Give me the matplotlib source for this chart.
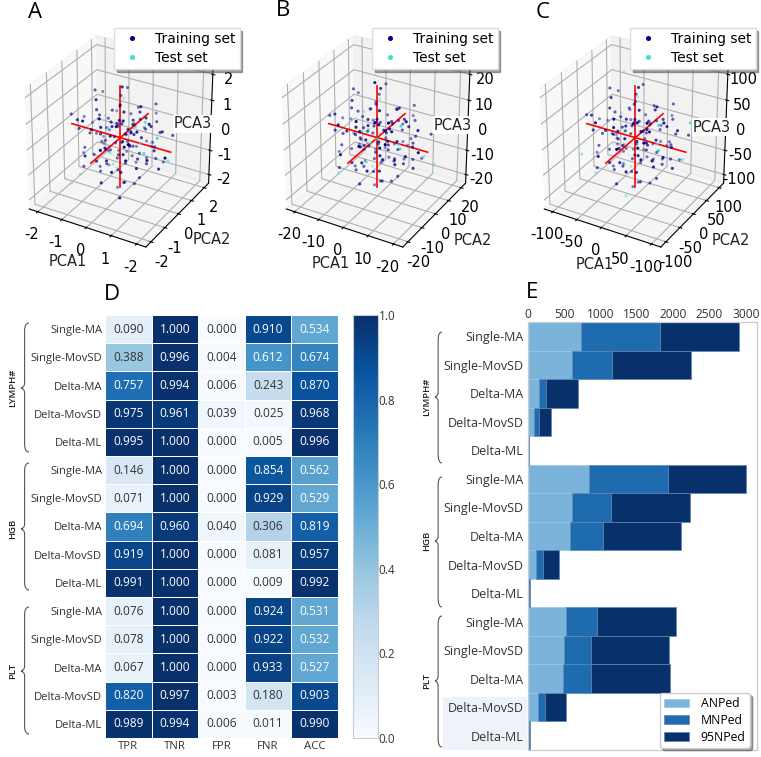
import numpy as np
import matplotlib
matplotlib.use("Agg")
import matplotlib.pyplot as plt
from matplotlib.path import Path
from matplotlib.patches import PathPatch, Rectangle

plt.rcParams['font.family'] = ['Open Sans', 'DejaVu Sans']

W, H = 761, 757

methods = ['Single-MA', 'Single-MovSD', 'Delta-MA', 'Delta-MovSD', 'Delta-ML']
groups = ['LYMPH#', 'HGB', 'PLT']
metrics = ['TPR', 'TNR', 'FPR', 'FNR', 'ACC']

tpr = [0.090, 0.388, 0.757, 0.975, 0.995, 0.146, 0.071, 0.694, 0.919, 0.991, 0.076, 0.078, 0.067, 0.820, 0.989]
tnr = [1.000, 0.996, 0.994, 0.961, 1.000, 1.000, 1.000, 0.960, 1.000, 1.000, 1.000, 1.000, 1.000, 0.997, 0.994]
fpr = [0.000, 0.004, 0.006, 0.039, 0.000, 0.000, 0.000, 0.040, 0.000, 0.000, 0.000, 0.000, 0.000, 0.003, 0.006]
fnr = [0.910, 0.612, 0.243, 0.025, 0.005, 0.854, 0.929, 0.306, 0.081, 0.009, 0.924, 0.922, 0.933, 0.180, 0.011]
acc = [0.534, 0.674, 0.870, 0.968, 0.996, 0.562, 0.529, 0.819, 0.957, 0.992, 0.531, 0.532, 0.527, 0.903, 0.990]

anped = [735, 600, 147, 83, 4, 840, 602, 574, 110, 10, 524, 500, 482, 133, 10]
mnped = [1089, 560, 96, 73, 4, 1085, 546, 459, 92, 5, 431, 364, 391, 97, 5]
nped95 = [1079, 1085, 441, 156, 6, 1084, 1080, 1080, 225, 10, 1084, 1079, 1079, 294, 10]

# Hand-estimated stand-in for the dense clouds (far fewer points than the original)
a_train = [(-1.6,0.2,0.3),(-1.2,-0.9,0.8),(-1.1,0.7,-0.6),(-0.9,1.3,0.2),(-0.8,-0.3,1.4),(-0.7,0.4,-1.5),(-0.6,-1.4,-0.2),(-0.5,0.9,1.1),(-0.4,-0.7,-1.1),(-0.3,1.6,-0.4),(-0.2,-1.1,1.2),(-0.1,0.3,1.8),(0.0,-0.2,-1.9),(0.1,1.1,0.7),(0.2,-1.7,0.4),(0.3,0.6,-1.2),(0.4,-0.5,1.0),(0.5,1.4,-0.9),(0.6,-1.0,-0.7),(0.7,0.2,1.3),(0.8,-0.4,-1.4),(0.9,1.0,0.4),(1.0,-1.2,0.6),(1.1,0.5,-0.3),(1.2,-0.1,0.9),(1.3,0.8,-1.0),(1.4,-0.6,-0.2),(1.5,0.3,0.5),(1.7,-0.3,-0.6),(-1.4,-0.2,-0.9),(-1.3,1.0,1.0),(-1.0,-0.4,0.1),(-0.9,0.1,0.6),(-0.8,0.6,-0.2),(-0.7,-0.8,0.5),(-0.6,0.2,-0.8),(-0.5,-0.1,0.3),(-0.4,0.5,0.2),(-0.3,-0.5,-0.3),(-0.2,0.8,-1.0),(-0.1,-0.9,0.0),(0.0,0.1,0.5),(0.1,-0.3,-0.5),(0.2,0.4,0.1),(0.3,-0.8,0.9),(0.4,0.7,0.5),(0.5,-0.2,-0.1),(0.6,0.3,-0.6),(0.7,-0.6,0.2),(0.8,0.9,-0.4),(0.9,-0.1,0.3),(1.0,0.1,-0.8),(-1.5,0.6,-0.1),(-1.1,-0.6,-0.4),(-0.9,-1.0,-0.9),(-0.6,1.0,0.6),(-0.4,0.0,-0.6),(-0.2,-0.3,0.7),(-0.1,0.6,-0.2),(0.0,-0.7,0.4),(0.1,0.2,-1.1),(0.2,-0.1,1.1),(0.3,1.2,-0.1),(0.4,-1.3,-0.6),(0.5,0.5,0.9),(0.6,-0.8,-1.2),(0.7,1.3,0.9),(0.9,-0.7,1.1),(1.1,-0.8,-0.5),(1.2,0.7,0.2),(-1.2,0.3,1.4),(-1.0,0.9,-1.1),(-0.7,-0.1,-0.3),(-0.5,0.3,0.8),(-0.3,0.1,-0.1),(-0.2,-0.6,-0.8),(0.0,0.5,-0.4),(0.2,0.0,0.2),(0.4,0.2,0.7),(0.6,-0.3,0.5),(0.8,0.4,0.8),(1.0,-0.4,-1.1),(1.3,0.1,-0.2),(-0.8,-1.2,1.0),(-0.4,1.2,1.3),(0.1,-1.5,-1.0),(0.5,1.7,0.3),(1.6,0.9,0.1),(-1.7,-0.5,0.7),(0.3,-0.2,-1.6),(2.1,-0.6,0.1),(0.9,-1.6,-1.3),
(-0.35,0.27,-0.44),(0.62,-0.13,0.36),(-0.77,-0.52,-0.63),(0.18,0.84,-0.71),(-0.12,-0.37,0.58),(0.44,0.12,-0.27),(-0.56,0.71,0.07),(0.93,-0.48,0.71),(-0.24,0.41,1.02),(0.07,-1.08,-0.36),(-1.06,0.14,-0.19),(0.74,0.58,-0.88),(-0.47,-0.24,-0.12),(0.33,-0.41,0.14),(-0.68,0.33,0.42),(0.16,0.69,0.26),(-0.03,-0.16,-0.74),(0.52,-0.71,-0.17),(-0.29,-0.85,0.73),(1.08,0.26,0.61),(-0.86,-0.17,0.94),(0.27,0.37,-0.83),(-0.16,1.03,0.41),(0.85,-0.27,-0.47),(-0.53,-0.46,0.22),(0.36,-0.09,0.47),(-0.08,0.24,-0.33),(0.58,0.78,0.12),(-0.37,-1.02,-0.53),(0.24,-0.58,-0.92),(-0.94,0.46,-0.72),(0.69,-0.93,0.28),(-0.19,0.16,0.32),(0.11,-0.26,0.83),(-0.64,-0.33,-1.17),(0.47,1.06,-0.52),(-1.24,-0.73,0.37),(1.24,0.34,-0.64),(-0.43,0.62,-0.94),(0.83,-1.08,-0.14)]
a_test = [(-1.9,0.1,-0.2),(-1.0,-1.1,-1.2),(-0.5,1.1,0.9),(-0.2,0.1,-1.3),(0.2,-1.2,1.0),(0.6,1.1,-0.6),(1.1,-0.2,1.0),(1.5,-1.0,0.3),(1.8,0.2,-0.5),(0.0,-0.5,-0.8),(-0.9,0.5,0.4),(0.8,0.0,0.0),(-0.3,-0.2,-0.6),(0.35,0.25,0.55),(1.9,-0.8,0.9),(-1.3,-1.2,-1.6)]
b_train = [(-16,3,2),(-13,-7,9),(-12,8,-5),(-10,12,3),(-9,-2,13),(-8,5,-14),(-6,-15,-1),(-5,10,11),(-4,-8,-10),(-3,16,-3),(-2,-11,11),(-1,4,17),(0,-2,-18),(1,12,6),(2,-16,5),(3,7,-11),(4,-6,9),(5,13,-8),(6,-9,-7),(7,3,12),(8,-4,-13),(9,11,4),(10,-12,6),(11,6,-2),(12,-1,10),(13,9,-9),(14,-5,-1),(15,2,6),(16,-3,-6),(-14,-3,-8),(-13,9,10),(-11,-5,1),(-9,2,7),(-8,7,-3),(-7,-9,5),(-6,1,-7),(-5,-1,3),(-4,6,2),(-3,-4,-2),(-2,9,-9),(-1,-10,1),(0,2,5),(1,-3,-4),(2,3,1),(3,-7,10),(4,8,4),(5,-1,-1),(6,4,-5),(7,-5,3),(8,10,-3),(9,-2,2),(10,1,-8),(-15,7,0),(-11,-6,-3),(-9,-11,-9),(-7,11,7),(-4,1,-5),(-2,-3,8),(-1,7,-1),(0,-8,3),(1,1,-10),(2,-2,12),(3,13,0),(4,-14,-5),(5,5,10),(6,-7,-12),(7,14,8),(9,-8,12),(11,-7,-4),(12,6,1),(-12,4,14),(-10,10,-10),(-7,0,-2),(-5,4,8),(-3,2,0),(-2,-6,-9),(0,6,-3),(2,1,3),(4,3,6),(6,-2,6),(8,5,7),(10,-3,-11),(13,2,-1),(-8,-13,9),(-4,13,14),(1,-14,-11),(5,17,2),(16,10,1),(-17,-4,6),(3,-3,-15),(19,-5,2),(-1,0,21),
(-3.5,-6.1,4.4),(5.7,2.4,-8.3),(-8.6,-3.3,-5.2),(1.6,9.4,-6.7),(-1.3,-4.2,6.4),(4.8,-0.7,-3.1),(-6.4,8.1,1.3),(8.9,-5.6,7.5),(-2.7,3.8,10.6),(0.6,-11.8,-3.9),(-10.7,1.9,-2.2),(7.3,6.4,-9.6),(-5.2,-2.6,-0.8),(3.4,-4.9,1.7),(-7.6,2.8,4.9),(1.9,7.7,2.3),(-0.4,-1.4,-7.8),(5.6,-7.9,-1.6),(-3.1,-9.3,7.7),(10.8,3.1,5.8),(-9.4,-1.7,9.9),(2.6,3.7,-8.9),(-1.8,10.3,3.6),(8.4,-2.9,-5.4),(-5.8,-5.2,2.1),(3.9,-1.2,4.3),(-0.9,2.2,-3.8),(5.9,7.4,1.1),(-4.1,-10.6,-5.8),(2.1,-6.3,-9.7),(-9.9,4.2,-7.4),(6.6,-9.8,2.6),(-2.2,1.4,3.3),(1.2,-2.3,8.6),(-6.9,-3.8,-11.4),(4.3,10.9,-5.7),(-12.6,-7.7,3.2),(12.3,3.6,-6.9),(-4.6,6.7,-9.2),(8.1,-10.4,-1.2)]
b_test = [(-18,2,-3),(-10,-10,-12),(-6,12,8),(-2,0,-12),(3,-12,9),(7,10,-7),(11,-3,9),(14,-9,4),(17,3,-4),(-1,-6,-7),(-9,6,5),(8,1,-1),(0,1,1),(-3,-1,3),(1,-1,-3),(-1,-3,-1),(2,-4,2),(18,9,-10)]
c_train = [(-82,14,8),(-66,-38,44),(-60,36,-28),(-48,64,12),(-44,-8,70),(-38,22,-74),(-30,-76,-8),(-26,48,56),(-22,-36,-52),(-16,80,-18),(-10,-56,60),(-4,18,88),(2,-12,-92),(6,56,38),(12,-84,22),(16,32,-58),(20,-28,48),(26,68,-42),(30,-48,-36),(36,12,64),(40,-18,-70),(46,52,24),(50,-58,32),(56,28,-12),(60,-6,48),(66,42,-46),(70,-26,-6),(76,14,28),(82,-14,-30),(-72,-12,-44),(-64,50,52),(-54,-22,4),(-46,8,34),(-40,34,-14),(-34,-44,26),(-28,6,-38),(-24,-4,16),(-20,30,10),(-14,-20,-10),(-8,44,-48),(-4,-50,2),(2,10,28),(8,-16,-24),(12,18,4),(18,-38,50),(22,36,22),(28,-6,-4),(32,20,-30),(38,-28,14),(42,48,-20),(46,-8,12),(52,4,-40),(-76,32,-2),(-58,-28,-18),(-46,-54,-46),(-32,56,36),(-20,2,-28),(-10,-14,40),(-6,32,-6),(2,-40,18),(6,8,-52),(10,-4,58),(16,64,-2),(22,-70,-26),(26,24,50),(30,-34,-62),(36,72,42),(46,-40,60),(58,-38,-22),(62,34,8),(-62,18,72),(-52,48,-52),(-36,-2,-10),(-24,20,42),(-14,8,0),(-8,-30,-44),(2,30,-16),(10,2,14),(20,12,32),(30,-12,30),(42,24,36),(52,-16,-58),(68,8,-4),(-42,-64,48),(-20,62,70),(4,-72,-54),(26,86,10),(80,48,4),(-86,-22,32),(14,-14,-78),
(-17,-31,23),(29,13,-41),(-43,-17,-27),(9,47,-33),(-7,-21,31),(24,-3,-16),(-33,41,7),(44,-28,37),(-13,19,53),(3,-59,-19),(-53,9,-11),(37,32,-48),(-27,-13,-4),(17,-24,9),(-38,14,24),(9,38,12),(-2,-7,-39),(28,-39,-8),(-16,-47,38),(54,16,29),(-47,-8,49),(13,19,-44),(-9,52,18),(42,-14,-27),(-29,-26,11),(19,-6,21),(-4,11,-19),(29,37,6),(-21,-53,-29),(11,-32,-48),(-49,21,-37),(33,-49,13),(-11,7,17),(6,-12,43),(-34,-19,-57),(21,54,-28),(-63,-38,16),(61,18,-34),(-23,33,-46),(41,-52,-6)]
c_test = [(-92,8,-14),(-52,-50,-60),(-30,60,44),(-10,2,-62),(14,-60,46),(34,54,-32),(54,-14,46),(72,-46,18),(88,12,-24),(-4,-32,-38),(-46,30,22),(40,6,-4),(-70,-66,-20),(92,30,40),(4,-40,-95),(-60,64,84)]

DJ = ['DejaVu Sans']
panels = [
    ((-7, 5, 248, 272), a_train, a_test, 2, [-2, -1, 0, 1, -2], [-2, -1, 0, 1, 2], [-2, -1, 0, 1, 2],
     (114, 28), (68, 262), (212, 240), (193, 124)),
    ((250, 5, 248, 272), b_train, b_test, 20, [-20, -10, 0, 10, -20], [-20, -10, 0, 10, 20], [-20, -10, 0, 10, 20],
     (372, 28), (331, 263), (473, 241), (453, 125)),
    ((508, 5, 248, 272), c_train, c_test, 100, [-100, -50, 0, 50, -100], [-100, -50, 0, 50, 100], [-100, -50, 0, 50, 100],
     (630, 28), (595, 265), (731, 241), (712, 127)),
]
letters = {'A': (35, 13), 'B': (283, 11), 'C': (543, 13), 'D': (112, 294), 'E': (532, 293)}


def frect(x0, y0, w, h):
    return [x0 / W, 1 - (y0 + h) / H, w / W, h / H]


def fpt(x, y):
    return x / W, 1 - y / H


fig = plt.figure(figsize=(W / 100, H / 100), dpi=100, facecolor='white')

for rect, train, test, r, xl, yl, zl, legpos, lx, ly, lz in panels:
    ax = fig.add_axes(frect(*rect), projection='3d')
    ax.patch.set_alpha(0)
    ax.set_box_aspect((4, 4, 4.1), zoom=0.92)
    tr = np.array(train, float)
    te = np.array(test, float)
    ax.scatter(tr[:, 0], tr[:, 1], tr[:, 2], s=5, c='navy', depthshade=True, linewidths=0)
    ax.scatter(te[:, 0], te[:, 1], te[:, 2], s=5, c='turquoise', depthshade=True, linewidths=0)
    for v in ([[-r, r], [0, 0], [0, 0]], [[0, 0], [-r, r], [0, 0]], [[0, 0], [0, 0], [-r, r]]):
        ax.plot(v[0], v[1], v[2], color='red', lw=1.2)
    ticks = [-r, -r / 2, 0, r / 2, r]
    ax.set_xticks(ticks)
    ax.set_xticklabels([str(t) for t in xl], fontsize=10.5, family=DJ)
    ax.set_yticks(ticks)
    ax.set_yticklabels([str(t) for t in yl], fontsize=10.5, family=DJ)
    ax.set_zticks(ticks)
    ax.set_zticklabels([str(t) for t in zl], fontsize=10.5, family=DJ)
    lim = r * 1.18
    ax.set_xlim(-lim, lim); ax.set_ylim(-lim, lim); ax.set_zlim(-lim, lim)
    ax.tick_params(pad=0)
    for (px, py), txt, bg in ((lx, 'PCA1', None), (ly, 'PCA2', None), (lz, 'PCA3', 'white')):
        t = fig.text(*fpt(px, py), txt, fontsize=10.5, family=DJ, ha='center', va='center', zorder=5, color='#222222')
        if bg:
            t.set_bbox(dict(fc=bg, ec='none', pad=0.8))
    h = [plt.Line2D([], [], ls='', marker='o', ms=2.6, color=c) for c in ('navy', 'turquoise')]
    fig.legend(h, ['Training set', 'Test set'], loc='upper left',
               bbox_to_anchor=fpt(*legpos), frameon=True, fancybox=False,
               shadow=True, framealpha=1, edgecolor='#dddddd', borderpad=0.3, labelspacing=0.35,
               borderaxespad=0, prop={'family': DJ, 'size': 10}, handletextpad=0.65)

for k, (x, y) in letters.items():
    fig.text(*fpt(x, y), k, fontsize=16, ha='center', va='center', color='black')

# Heatmap
ax = fig.add_axes(frect(105, 315, 233, 423))
data = np.array([tpr, tnr, fpr, fnr, acc]).T
mesh = ax.pcolormesh(data, cmap='Blues', vmin=0, vmax=1, edgecolors='white', linewidth=0.6)
ax.set_ylim(15, 0)
for i in range(15):
    for j in range(5):
        v = data[i, j]
        ax.text(j + .5, i + .5, f'{v:.3f}', ha='center', va='center', fontsize=8.6,
                color='white' if v > 0.5 else '#333333')
rows = methods * 3
ax.set_yticks(np.arange(15) + .5)
ax.set_yticklabels(rows, fontsize=8.1, color='#333333')
ax.set_xticks(np.arange(5) + .5)
ax.set_xticklabels(metrics, fontsize=8.2, color='#333333')
ax.tick_params(length=0, pad=2)
for s in ax.spines.values():
    s.set_visible(False)

cax = fig.add_axes(frect(353, 315, 25, 423))
cb = fig.colorbar(mesh, cax=cax)
cb.set_ticks([0, .2, .4, .6, .8, 1])
cb.ax.tick_params(labelsize=8.5, length=0, pad=0.5, labelcolor='#333333')
cb.outline.set_edgecolor('#c8ccd2')
cb.outline.set_linewidth(0.8)

# Stacked bars
ax = fig.add_axes(frect(528, 322, 229, 428))
y = np.arange(15)
an, mn, n95 = map(np.array, (anped, mnped, nped95))
ec = '#5f86b3'
ax.barh(y, an, height=1, color='#7bb4da', edgecolor='#9cc6e2', lw=0.5, label='ANPed')
ax.barh(y, mn, left=an, height=1, color='#1f6bb0', edgecolor=ec, lw=0.5, label='MNPed')
ax.barh(y, n95, left=an + mn, height=1, color='#08306b', edgecolor=ec, lw=0.5, label='95NPed')
ax.set_ylim(14.5, -0.5)
ax.set_xlim(0, 3155)
ax.xaxis.tick_top()
ax.set_xticks([0, 500, 1000, 1500, 2000, 2500, 3000])
ax.tick_params(axis='x', labelsize=8.6, length=0, pad=1, labelcolor='#333333')
ax.set_yticks(y)
ax.set_yticklabels(rows, fontsize=9, color='#333333')
ax.tick_params(axis='y', length=0, pad=3)
for s in ax.spines.values():
    s.set_color('#c8ccd2')
    s.set_linewidth(0.9)
ax.legend(loc='lower right', fontsize=8.8, fancybox=True, shadow=True, framealpha=1,
          bbox_to_anchor=(0.969, 0.005), borderaxespad=0, labelspacing=0.3, handlelength=2.0,
          handleheight=0.7, edgecolor='#cccccc', borderpad=0.35, handletextpad=1.0)


def brace(x_tip, x_end, y0, y_tip, y1):
    xm = x_tip + (x_end - x_tip) * 0.45
    pts = [(x_end, y0), (xm, y0), (xm, y0 + 8), (xm, y_tip - 5), (xm, y_tip - 1), (x_tip, y_tip),
           (x_tip, y_tip), (xm, y_tip + 1), (xm, y_tip + 5), (xm, y1 - 8), (xm, y1), (x_end, y1)]
    codes = [Path.MOVETO, Path.CURVE3, Path.CURVE3, Path.LINETO, Path.CURVE3, Path.CURVE3,
             Path.MOVETO, Path.CURVE3, Path.CURVE3, Path.LINETO, Path.CURVE3, Path.CURVE3]
    fp = [fpt(*p) for p in pts]
    fig.add_artist(PathPatch(Path(fp, codes), fc='none', ec='#555555', lw=0.8, transform=fig.transFigure))


for tip, end, lab_x, spans in [
    (21, 29, 13, [(323, 388, 452), (463, 529, 590), (607, 671, 734)]),
    (435, 442, 427, [(332, 397, 463), (477, 541, 607), (616, 681, 747)]),
]:
    for g, (a, b, c) in zip(groups, spans):
        brace(tip, end, a, b, c)
        fig.text(*fpt(lab_x, b), g, rotation=90, ha='center', va='center', fontsize=6.8,
                 color='#222222', fontweight='semibold')

fig.add_artist(Rectangle(fpt(443, 750), 84 / W, 53 / H, transform=fig.transFigure,
                         fc='#eef3fa', ec='none', zorder=-1))

fig.savefig('out.png', dpi=100)
